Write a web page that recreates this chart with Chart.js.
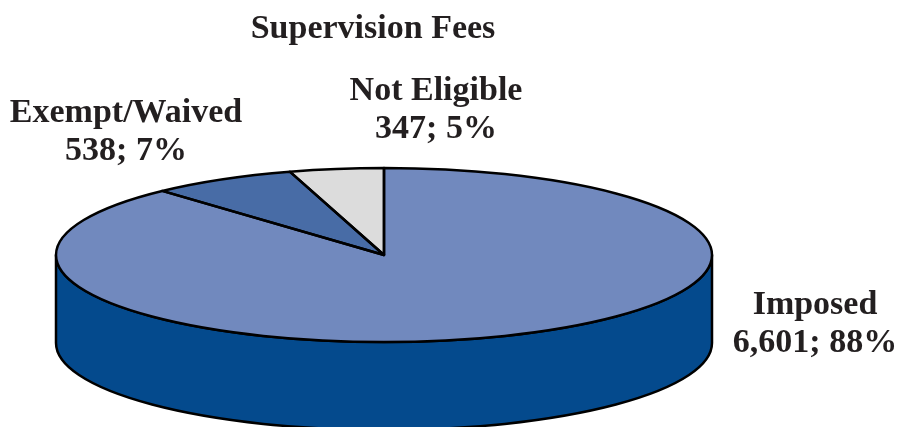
<!DOCTYPE html>
<html>
<head>
<meta charset="utf-8">
<script src="https://cdn.jsdelivr.net/npm/chart.js@4.4.1/dist/chart.umd.min.js"></script>
<style>
  html, body { margin: 0; padding: 0; background: #fff; }
  #wrap { width: 900px; height: 427px; }
</style>
</head>
<body>
<div id="wrap"><canvas id="myChart"></canvas></div>
<script>
var categories = ['Imposed', 'Exempt/Waived', 'Not Eligible'];
var counts = [6601, 538, 347];
var topColors = ['#7189be', '#486ca6', '#dcdcdc'];
var sideColors = ['#044a8d', '#2d4f85', '#b0b0b0'];

var total = counts.reduce(function (a, b) { return a + b; }, 0);
var fontFamily = '"Liberation Serif", "Times New Roman", serif';

// where the squashed pie goes on the page
var CX = 384, CY = 255, RX = 328, RY = 87, DEPTH = 88;
// label anchors (centre x, first baseline y)
var labelPos = [[815, 314], [126, 122], [436, 100]];

function mapPt(ang) {
  return [CX + RX * Math.cos(ang), CY + RY * Math.sin(ang)];
}

var pie3d = {
  id: 'pie3d',
  beforeDatasetsDraw: function (chart) {
    var ctx = chart.ctx;
    var meta = chart.getDatasetMeta(0);
    var a0 = meta.data[0];
    // side walls, only the front half (0..PI) is visible
    meta.data.forEach(function (arc, i) {
      [-2, 0, 2].forEach(function (k) {
        var s = Math.max(arc.startAngle, k * Math.PI);
        var e = Math.min(arc.endAngle, k * Math.PI + Math.PI);
        if (e <= s) return;
        var pe = mapPt(e);
        ctx.save();
        ctx.beginPath();
        ctx.ellipse(CX, CY, RX, RY, 0, s, e);
        ctx.lineTo(pe[0], pe[1] + DEPTH);
        ctx.ellipse(CX, CY + DEPTH, RX, RY, 0, e, s, true);
        ctx.closePath();
        ctx.fillStyle = sideColors[i];
        ctx.fill();
        ctx.lineWidth = 2.5;
        ctx.strokeStyle = '#000';
        ctx.lineJoin = 'round';
        ctx.stroke();
        ctx.restore();
      });
    });
    // squash the library's round pie into the top ellipse
    var sx = RX / a0.outerRadius, sy = RY / a0.outerRadius;
    ctx.save();
    ctx.translate(CX, CY);
    ctx.scale(sx, sy);
    ctx.translate(-a0.x, -a0.y);
  },
  afterDatasetsDraw: function (chart) {
    var ctx = chart.ctx;
    ctx.restore();
    var meta = chart.getDatasetMeta(0);
    ctx.save();
    ctx.lineWidth = 2.5;
    ctx.strokeStyle = '#000';
    ctx.lineJoin = 'round';
    meta.data.forEach(function (arc) {
      ctx.beginPath();
      ctx.moveTo(CX, CY);
      ctx.ellipse(CX, CY, RX, RY, 0, arc.startAngle, arc.endAngle);
      ctx.closePath();
      ctx.stroke();
    });
    ctx.restore();
  },
  afterDraw: function (chart) {
    var ctx = chart.ctx;
    ctx.save();
    ctx.fillStyle = '#231f20';
    ctx.font = 'bold 34px ' + fontFamily;
    ctx.textAlign = 'center';
    ctx.textBaseline = 'alphabetic';
    categories.forEach(function (name, i) {
      var pct = Math.round(counts[i] / total * 100);
      var p = labelPos[i];
      ctx.fillText(name, p[0], p[1]);
      ctx.fillText(counts[i].toLocaleString('en-US') + '; ' + pct + '%', p[0], p[1] + 38);
    });
    ctx.restore();
  }
};

var ctx = document.getElementById('myChart').getContext('2d');
var myChart = new Chart(ctx, {
  type: 'pie',
  data: {
    labels: categories,
    datasets: [{
      data: counts,
      backgroundColor: topColors,
      borderWidth: 0
    }]
  },
  options: {
    responsive: true,
    maintainAspectRatio: false,
    animation: false,
    events: [],
    layout: { padding: { left: 0, right: 154, top: 0, bottom: 0 } },
    plugins: {
      legend: { display: false },
      tooltip: { enabled: false },
      title: {
        display: true,
        text: 'Supervision Fees',
        color: '#231f20',
        font: { family: fontFamily, size: 34, weight: 'bold' },
        padding: { top: 9, bottom: 10 }
      }
    }
  },
  plugins: [pie3d]
});
</script>
</body>
</html>
